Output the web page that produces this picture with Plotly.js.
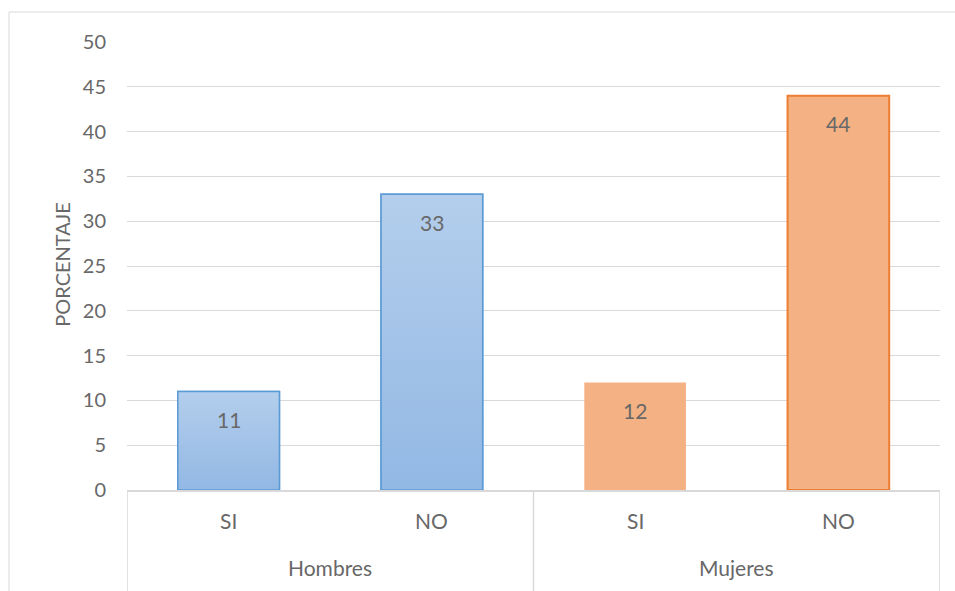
<!DOCTYPE html>
<html>
<head>
<meta charset="utf-8">
<script src="https://cdn.plot.ly/plotly-3.0.1.min.js"></script>
<style>
  html, body { margin: 0; padding: 0; background: #ffffff; }
  #chart { width: 955px; height: 591px; }
</style>
</head>
<body>
<div id="chart"></div>
<script>
// Survey answers by sex (percent)
const groups = ["Hombres", "Mujeres"];
const answers = ["SI", "NO"];
const values = [11, 33, 12, 44];            // Hombres SI, Hombres NO, Mujeres SI, Mujeres NO
const barGroup = [0, 0, 1, 1];              // index into groups for each bar
const barAnswer = [0, 1, 0, 1];             // index into answers for each bar
const yTicks = [0, 5, 10, 15, 20, 25, 30, 35, 40, 45, 50];
const yTitle = "PORCENTAJE";

const FONT = "Lato, 'Open Sans', 'Liberation Sans', sans-serif";
const TEXT = "#686868";
const GRID = "#d9d9d9";
const BAR_W = 0.5;

const groupFill = ["rgb(160,194,232)", "rgb(244,177,131)"];
const groupLine = ["#5b9bd5", "#ed7d31"];
const lineWidths = [1.5, 1.5, 0, 2];
const xs = values.map((_, i) => i);

const traces = [{
  type: "bar",
  x: xs,
  y: values,
  width: BAR_W,
  marker: {
    color: values.map((_, i) => groupFill[barGroup[i]]),
    line: { color: values.map((_, i) => groupLine[barGroup[i]]), width: lineWidths }
  },
  hoverinfo: "y",
  showlegend: false
}];

// Vertical gradient fill for the men's bars, outlined in the series blue
values.forEach((v, i) => {
  if (barGroup[i] !== 0) return;
  const l = i - BAR_W / 2, r = i + BAR_W / 2;
  traces.push({
    type: "scatter",
    mode: "lines",
    x: [l, l, r, r, l],
    y: [0, v, v, 0, 0],
    fill: "toself",
    fillgradient: {
      type: "vertical",
      colorscale: [[0, "rgb(146,184,228)"], [1, "rgb(180,206,236)"]]
    },
    line: { color: "#5b9bd5", width: 1.5 },
    hoverinfo: "skip",
    showlegend: false
  });
});

const annotations = [];
// value labels inside the bars, just under the top edge
values.forEach((v, i) => {
  annotations.push({
    x: i, y: v, xref: "x", yref: "y",
    text: String(v), showarrow: false,
    yanchor: "middle", yshift: -28,
    font: { family: FONT, size: 21, color: TEXT }
  });
});
// answer labels
values.forEach((v, i) => {
  annotations.push({
    x: i, y: -0.069, xref: "x", yref: "paper",
    text: answers[barAnswer[i]], showarrow: false,
    yanchor: "middle",
    font: { family: FONT, size: 21, color: TEXT }
  });
});
// group labels, centred under their bars
groups.forEach((g, gi) => {
  const idx = xs.filter(i => barGroup[i] === gi);
  const mid = (idx[0] + idx[idx.length - 1]) / 2;
  annotations.push({
    x: mid, y: -0.174, xref: "x", yref: "paper",
    text: g, showarrow: false, yanchor: "middle",
    font: { family: FONT, size: 21, color: TEXT }
  });
});
// y axis title
annotations.push({
  x: -0.08, y: 0.505, xref: "paper", yref: "paper",
  text: yTitle, showarrow: false, textangle: -90,
  xanchor: "center", yanchor: "middle",
  font: { family: FONT, size: 20, color: TEXT }
});

// group dividers below the axis and the outer chart frame
const shapes = [];
const bounds = [-0.5];
groups.forEach((g, gi) => {
  const idx = xs.filter(i => barGroup[i] === gi);
  bounds.push(idx[idx.length - 1] + 0.5);
});
bounds.forEach(b => shapes.push({
  type: "line", xref: "x", yref: "paper",
  x0: b, x1: b, y0: 0, y1: -0.24,
  line: { color: GRID, width: 1.5 }
}));
shapes.push({
  type: "rect", xref: "paper", yref: "paper",
  x0: -0.1451, x1: 1.04, y0: -0.3, y1: 1.067,
  line: { color: GRID, width: 1 }, fillcolor: "rgba(0,0,0,0)"
});

const layout = {
  width: 955, height: 591,
  margin: { l: 127, r: 15, t: 42, b: 101 },
  paper_bgcolor: "#ffffff",
  plot_bgcolor: "#ffffff",
  font: { family: FONT, color: TEXT },
  xaxis: {
    type: "linear",
    range: [-0.5, xs.length - 0.5],
    showticklabels: false,
    showgrid: false,
    zeroline: false,
    showline: true, linecolor: GRID, linewidth: 2,
    ticks: "", fixedrange: true
  },
  yaxis: {
    range: [0, 50],
    tickvals: yTicks,
    ticktext: yTicks.map(String),
    showgrid: true, gridcolor: GRID, gridwidth: 1,
    zeroline: false, showline: false,
    ticks: "", ticklabelstandoff: 20,
    tickfont: { family: FONT, size: 20, color: TEXT },
    fixedrange: true
  },
  annotations: annotations,
  shapes: shapes,
  showlegend: false
};

Plotly.newPlot("chart", traces, layout, { displayModeBar: false, staticPlot: true });
</script>
</body>
</html>
